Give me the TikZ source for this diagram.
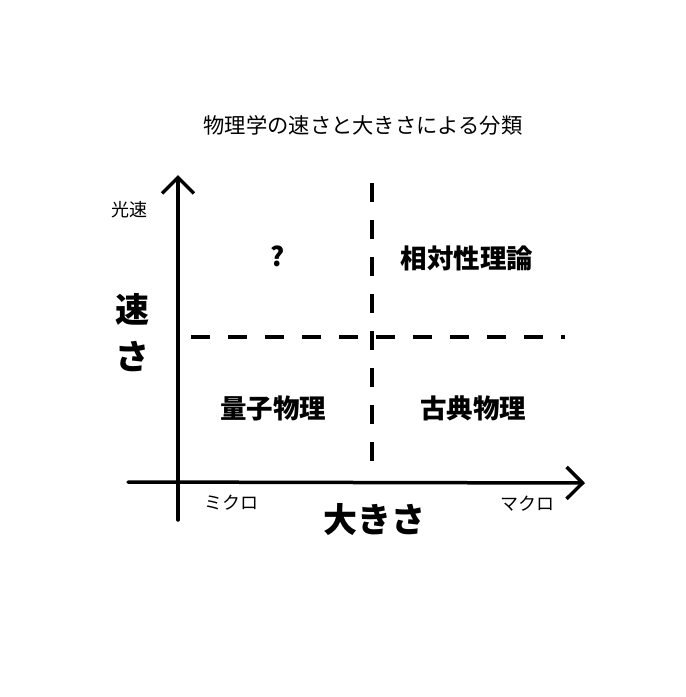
\documentclass[tikz,border=0pt]{standalone}
\usepackage{fontspec}
\setmainfont{Noto Sans CJK JP}
\usetikzlibrary{arrows.meta}

\tikzset{
  axis/.style={line width=3.5pt, line cap=round, -{Straight Barb[length=16pt,width=32pt,line width=3.5pt]}},
  divider/.style={line width=3.5pt, dash pattern=on 19pt off 18pt},
  region/.style={font=\bfseries\fontsize{26.5}{30}\selectfont},
  endlabel/.style={font=\fontsize{18}{20}\selectfont},
  axislabel/.style={font=\bfseries\fontsize{34}{38}\selectfont}
}

\begin{document}
\begin{tikzpicture}[x=1pt, y=-1pt]
      \useasboundingbox (0,0) rectangle (686,697);

      \node (title) at (363,125) {\fontsize{21.3}{24}\selectfont 物理学の速さと大きさによる分類};

      \coordinate (ybot) at (178,520);
      \coordinate (ytop) at (178,175);
      \coordinate (xleft) at (128,482);
      \coordinate (xright) at (585,483);
      \coordinate (vtop) at (372,183);
      \coordinate (vbot) at (372,465);
      \coordinate (hleft) at (191,337);
      \coordinate (hright) at (565,337);

      \node[endlabel] (light) at (129,210) {光速};
      \node[axislabel] (speed1) at (132,309) {速};
      \node[axislabel] (speed2) at (132,357) {さ};
      \node[endlabel] (micro) at (231,503) {ミクロ};
      \node[endlabel] (macro) at (527,504) {マクロ};
      \node[axislabel] (size) at (374,520) {大きさ};

      \node[region] (unknown) at (278,256) {?};
      \node[region] (relativity) at (467,258) {相対性理論};
      \node[region] (quantum) at (273,408) {量子物理};
      \node[region] (classical) at (473,408) {古典物理};

      \path [axis]  (ybot) edge (ytop);
      \path [axis]  (xleft) edge (xright);
      \path [divider]  (vtop) edge (vbot);
      \path [divider]  (hleft) edge (hright);
    \end{tikzpicture}
\end{document}
